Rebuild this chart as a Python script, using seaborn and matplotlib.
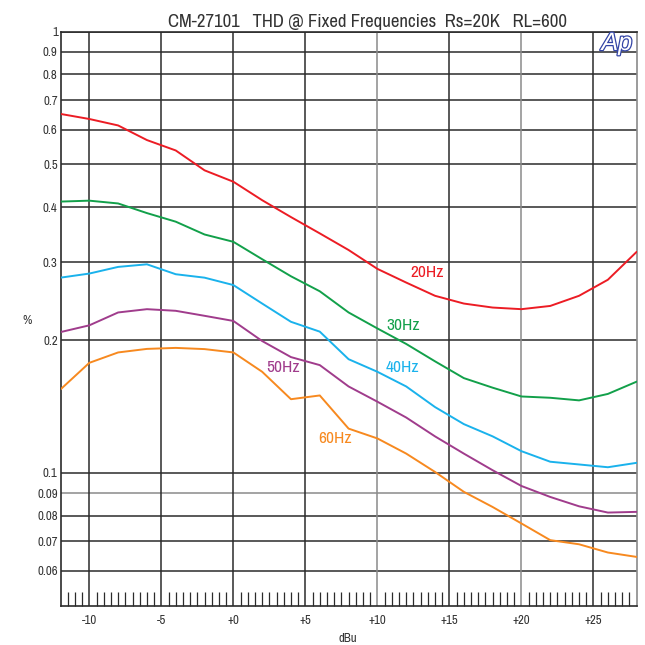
import numpy as np
import pandas as pd
import matplotlib
matplotlib.use("Agg")
import matplotlib.pyplot as plt
import seaborn as sns
from matplotlib import patheffects, font_manager
from matplotlib.ticker import FixedLocator, NullLocator, NullFormatter

# ---------------- data ----------------
dbu = list(range(-12, 29, 2))

thd_20 = [0.651, 0.634, 0.613, 0.568, 0.538, 0.485, 0.457, 0.415, 0.380, 0.349, 0.320,
          0.290, 0.270, 0.252, 0.242, 0.237, 0.235, 0.239, 0.252, 0.274, 0.317]
thd_30 = [0.412, 0.414, 0.408, 0.388, 0.371, 0.347, 0.334, 0.305, 0.279, 0.258, 0.231,
          0.2125, 0.196, 0.179, 0.164, 0.156, 0.149, 0.148, 0.146, 0.151, 0.161]
thd_40 = [0.277, 0.283, 0.293, 0.297, 0.282, 0.277, 0.2665, 0.242, 0.220, 0.209, 0.181,
          0.1695, 0.157, 0.141, 0.129, 0.121, 0.112, 0.106, 0.1045, 0.103, 0.1054]
thd_50 = [0.2085, 0.216, 0.231, 0.235, 0.233, 0.227, 0.221, 0.199, 0.183, 0.1755, 0.157,
          0.145, 0.1335, 0.121, 0.1106, 0.1014, 0.0934, 0.0882, 0.084, 0.0813, 0.0816]
thd_60 = [0.1546, 0.1776, 0.1875, 0.191, 0.192, 0.1908, 0.1875, 0.1695, 0.1469, 0.1498, 0.126,
          0.1197, 0.1106, 0.1005, 0.0906, 0.0837, 0.0768, 0.0704, 0.0689, 0.066, 0.0645]

freqs = ["20Hz", "30Hz", "40Hz", "50Hz", "60Hz"]
colors = ["#ec1c24", "#12a04a", "#1ab2ec", "#a03c8c", "#f7891f"]

# label anchor (left edge x, centre y)
label_x = [12.3, 10.6, 10.6, 2.3, 5.9]
label_y = [0.284, 0.216, 0.173, 0.173, 0.1197]

y_ticks = [0.06, 0.07, 0.08, 0.09, 0.1, 0.2, 0.3, 0.4, 0.5, 0.6, 0.7, 0.8, 0.9, 1]
y_labels = ["0.06", "0.07", "0.08", "0.09", "0.1", "0.2", "0.3", "0.4", "0.5",
            "0.6", "0.7", "0.8", "0.9", "1"]
x_ticks = [-10, -5, 0, 5, 10, 15, 20, 25]
x_labels = ["-10", "-5", "+0", "+5", "+10", "+15", "+20", "+25"]

df = pd.DataFrame({
    "dBu": dbu * 5,
    "thd": thd_20 + thd_30 + thd_40 + thd_50 + thd_60,
    "freq": sum([[f] * len(dbu) for f in freqs], []),
})

# ---------------- style ----------------
sns.set_style("white")
narrow = [f.name for f in font_manager.fontManager.ttflist
          if "Narrow" in f.name or "Condensed" in f.name]
if narrow:
    fam = narrow[0]
    title_size, tick_size, lab_size = 13.5, 9.2, 12.5
else:
    fam = "Liberation Sans"
    title_size, tick_size, lab_size = 11.4, 7.5, 10.5
plt.rcParams["font.family"] = [fam, "DejaVu Sans"]

fig = plt.figure(figsize=(6.45, 6.45), dpi=100)
ax = fig.add_axes([0.0938, 0.0609, 0.8933, 0.8900])

# grid lines first so curves sit on top
dark = "#2b2b2b"
gray = "#8a8a8a"
for v in y_ticks:
    ax.axhline(v, color=gray if v == 0.09 else dark, lw=1.1, zorder=1)
for v in x_ticks:
    ax.axvline(v, color=gray if v in (10, 20) else dark, lw=1.1, zorder=1)

sns.lineplot(data=df, x="dBu", y="thd", hue="freq", palette=colors, legend=False,
             linewidth=1.4, ax=ax, zorder=3)

ax.set_yscale("log")
ax.set_xlim(-12, 28)
ax.set_ylim(0.05, 1)

ax.yaxis.set_major_locator(FixedLocator(y_ticks))
ax.set_yticklabels(y_labels)
ax.yaxis.set_minor_locator(NullLocator())
ax.yaxis.set_minor_formatter(NullFormatter())
ax.set_xticks(x_ticks)
ax.set_xticklabels(x_labels)
ax.xaxis.set_minor_locator(FixedLocator(np.arange(-11.5, 28, 0.5)))

ax.tick_params(axis="y", which="major", length=0, pad=2, labelsize=tick_size, labelcolor="#333333")
ax.tick_params(axis="x", which="major", length=0, pad=7, labelsize=tick_size, labelcolor="#333333")
ax.tick_params(axis="x", which="minor", direction="in", length=10, width=0.9,
               color=dark, bottom=True)

for name, sp in ax.spines.items():
    sp.set_visible(True)
    sp.set_color(gray if name == "right" else dark)
    sp.set_linewidth(1.2)

ax.set_xlabel("")
ax.set_ylabel("")
fig.text(348 / 645, 1 - 638 / 645, "dBu", ha="center", va="center", fontsize=tick_size, color="#333333")
fig.text(27 / 645, 1 - 320 / 645, "%", ha="center", va="center", fontsize=tick_size, color="#333333")

fig.text(368 / 645, 1 - 22 / 645, "CM-27101   THD @ Fixed Frequencies  Rs=20K   RL=600",
         ha="center", va="center", fontsize=title_size, color="#333333")

for f, c, lx, ly in zip(freqs, colors, label_x, label_y):
    ax.text(lx, ly, f, color=c, fontsize=lab_size, ha="left", va="center", zorder=4)

logo = fig.text(632 / 645, 1 - 31 / 645, "Ap", ha="right", va="top", fontsize=18,
                style="italic", color="white", family=["Liberation Sans", "DejaVu Sans"],
                zorder=5)
logo.set_path_effects([patheffects.Stroke(linewidth=1.8, foreground="#3344a6"),
                       patheffects.Normal()])

plt.savefig("out.png", dpi=100)
